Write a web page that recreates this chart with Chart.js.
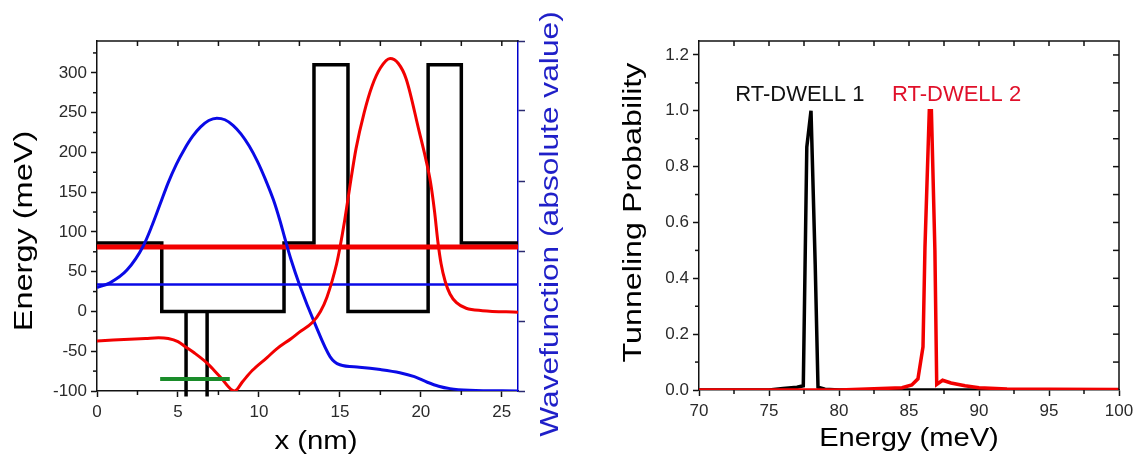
<!DOCTYPE html>
<html>
<head>
<meta charset="utf-8">
<script src="https://cdn.jsdelivr.net/npm/chart.js@4/dist/chart.umd.min.js"></script>
<style>
  html, body { margin: 0; padding: 0; background: #fff; }
  #wrap { position: relative; width: 1145px; height: 463px; overflow: hidden; background: #fff; }
  canvas { position: absolute; top: 0; }
  #band { left: 0; }
  #trans { left: 575px; }
</style>
</head>
<body>
<div id="wrap">
  <canvas id="band" width="575" height="463"></canvas>
  <canvas id="trans" width="570" height="463"></canvas>
</div>
<script>
// ---------- Band diagram: conduction-band profile and wavefunctions ----------
const profileX = [0, 4, 4, 11.55, 11.55, 13.4, 13.4, 15.5, 15.5, 20.45, 20.45, 22.5, 22.5, 26];
const profileE = [86, 86, 0, 0, 86, 86, 310, 310, 0, 0, 310, 310, 86, 86];

// narrow inner well walls (bottom lies below the plotted range)
const wellWallX = [5.5, 5.5, 6.15, 6.8, 6.8];
const wellWallE = [0, -107, null, 0, -107];

// resonance / bound-state levels
const upperLevelX = [0, 26];
const upperLevelE = [81, 81];
const lowerLevelX = [0, 26];
const lowerLevelE = [34, 34];
const groundLevelX = [3.9, 8.2];
const groundLevelE = [-85, -85];

// |psi| for the lower level (blue) and the upper level (red)
const psiLowX = [0, 0.8, 1.85, 2.85, 3.4, 3.9, 4.4, 4.9, 5.4, 5.9, 6.4, 6.9, 7.4, 7.9, 8.4, 8.9, 9.4, 9.9, 10.4, 10.9, 11.3, 11.6, 12.0, 12.5, 13.45, 14.4, 15.0, 16.2, 17.5, 18.7, 19.6, 20.4, 21.1, 21.8, 23, 26];
const psiLowE = [30, 36, 52, 82, 108, 135, 162, 185, 204, 220, 232, 240, 243, 241, 234, 223, 208, 189, 166, 140, 114, 92, 64, 34, -15, -57, -67, -70, -73, -77, -82, -89, -94, -97, -99, -100];

const psiHighX = [0, 1, 2, 3, 3.8, 4.4, 5.0, 5.5, 6.0, 6.8, 7.6, 8.5, 9.0, 9.6, 10.5, 11.1, 12, 12.5, 13.3, 13.8, 14.2, 14.8, 15.0, 15.3, 15.6, 16.0, 16.5, 17.0, 17.5, 18.1, 18.6, 19.1, 19.9, 20.3, 20.6, 20.85, 21.05, 21.25, 21.5, 21.8, 22.2, 22.8, 23.8, 26];
const psiHighE = [-37, -36, -35, -34, -33, -34, -38, -45, -52, -65, -82, -100, -88, -74, -58, -47, -34, -26, -14, 0, 18, 60, 80, 115, 155, 205, 250, 284, 306, 318, 312, 292, 226, 192, 162, 125, 88, 60, 38, 22, 11, 4, 1, -1];

const positionTicks = [0, 5, 10, 15, 20, 25];
const bandEnergyTicks = [-100, -50, 0, 50, 100, 150, 200, 250, 300];

// ---------- Tunneling probability spectra ----------
const dwell1E = [70, 75, 76, 77, 77.45, 77.7, 78.0, 78.3, 78.5, 79, 80, 85, 92];
const dwell1T = [0, 0, 0.005, 0.01, 0.015, 0.87, 1.0, 0.45, 0.01, 0.003, 0, 0, 0];
const dwell2E = [70, 80, 84.5, 85.2, 85.64, 86.0, 86.14, 86.45, 86.6, 86.85, 86.98, 87.4, 88, 89, 90, 92, 95, 100];
const dwell2T = [0, 0, 0.008, 0.018, 0.04, 0.155, 0.51, 1.0, 1.0, 0.5, 0.02, 0.035, 0.025, 0.015, 0.008, 0.004, 0.003, 0.002];

const energyTicks = [70, 75, 80, 85, 90, 95, 100];
const probTicks = [0, 0.2, 0.4, 0.6, 0.8, 1.0, 1.2];

const FAMILY = '"Liberation Sans", Arial, Helvetica, sans-serif';
const AXIS = '#111111';
const RED = '#f20000';
const BLUE = '#0a0ae6';
const GREEN = '#1a8c2a';

const pts = (xs, ys) => xs.map((x, i) => ({ x, y: ys[i] }));
const midpoints = arr => arr.slice(1).map((v, i) => (v + arr[i]) / 2);

// box edges, minor ticks and inward-pointing ticks on the top/right edges
const framePlugin = {
  id: 'frame',
  afterDatasetsDraw(chart, args, o) {
    const { ctx, chartArea: a } = chart;
    const xs = chart.scales.x, ys = chart.scales.y;
    const seg = (x1, y1, x2, y2) => { ctx.beginPath(); ctx.moveTo(x1, y1); ctx.lineTo(x2, y2); ctx.stroke(); };
    ctx.save();
    ctx.strokeStyle = AXIS;
    ctx.lineWidth = 1.5;
    seg(a.left - 0.75, a.top, a.right + 0.75, a.top);
    if (o.rightEdge) seg(a.right, a.top, a.right, a.bottom);
    (o.xMinor || []).forEach(v => { const p = xs.getPixelForValue(v); seg(p, a.bottom, p, a.bottom + 4); });
    (o.yMinor || []).forEach(v => { const p = ys.getPixelForValue(v); seg(a.left - 4, p, a.left, p); });
    (o.xTop || []).forEach(v => { const p = xs.getPixelForValue(v); seg(p, a.top, p, a.top + 5); });
    (o.yRight || []).forEach(v => { const p = ys.getPixelForValue(v); seg(a.right, p, a.right - 6, p); });
    ctx.restore();
  }
};

// axis titles and in-plot labels
const textPlugin = {
  id: 'labels',
  afterDraw(chart, args, o) {
    const { ctx, chartArea: a } = chart;
    (o.items || []).forEach(t => {
      let x, y;
      if (t.atX !== undefined) {
        x = chart.scales.x.getPixelForValue(t.atX);
        y = chart.scales.y.getPixelForValue(t.atY);
      } else {
        x = a.left + (a.right - a.left) * t.fx + t.dx;
        y = a.top + (a.bottom - a.top) * t.fy + t.dy;
      }
      ctx.save();
      ctx.translate(x, y);
      ctx.rotate(t.rot || 0);
      ctx.scale(t.stretch || 1, 1);
      ctx.font = `${t.size}px ${FAMILY}`;
      ctx.fillStyle = t.color;
      ctx.textAlign = 'center';
      ctx.textBaseline = 'middle';
      ctx.fillText(t.text, 0, 0);
      ctx.restore();
    });
  }
};

const tickFont = { family: FAMILY, size: 17 };
const baseGrid = { drawOnChartArea: false, drawTicks: true, tickLength: 6, color: AXIS, tickWidth: 1.5 };
const baseBorder = { color: AXIS, width: 1.5 };

new Chart(document.getElementById('band'), {
  type: 'line',
  plugins: [framePlugin, textPlugin],
  data: {
    datasets: [
      { data: pts(groundLevelX, groundLevelE), borderColor: GREEN, borderWidth: 4 },
      { data: pts(psiHighX, psiHighE), borderColor: RED, borderWidth: 3, cubicInterpolationMode: 'monotone' },
      { data: pts(psiLowX, psiLowE), borderColor: BLUE, borderWidth: 3, cubicInterpolationMode: 'monotone' },
      { data: pts(upperLevelX, upperLevelE), borderColor: RED, borderWidth: 5 },
      { data: pts(lowerLevelX, lowerLevelE), borderColor: BLUE, borderWidth: 2.5 },
      { data: pts(profileX, profileE), borderColor: '#000', borderWidth: 3.5, tension: 0 },
      { data: pts(wellWallX, wellWallE), borderColor: '#000', borderWidth: 3.5, spanGaps: false,
        clip: { left: 0, top: 0, right: 0, bottom: 7 } }
    ]
  },
  options: {
    responsive: false, animation: false, devicePixelRatio: 1,
    layout: { padding: { top: 41, left: 0, right: 0, bottom: 0 } },
    elements: { point: { radius: 0, hoverRadius: 0 }, line: { borderCapStyle: 'butt', borderJoinStyle: 'miter', fill: false } },
    events: [],
    plugins: {
      legend: { display: false },
      tooltip: { enabled: false },
      frame: {
        xMinor: midpoints(positionTicks),
        yMinor: midpoints(bandEnergyTicks).concat([325]),
        xTop: midpoints(positionTicks).concat(positionTicks.slice(1))
      },
      labels: {
        items: [
          { text: 'Energy (meV)', fx: 0, fy: 0.5, dx: -72, dy: 15, rot: -Math.PI / 2, stretch: 1.25, size: 26, color: '#000' },
          { text: 'Wavefunction (absolute value)', fx: 1, fy: 0.5, dx: 33, dy: 8, rot: -Math.PI / 2, stretch: 1.22, size: 26, color: '#1f1fc8' },
          { text: 'x (nm)', fx: 0.5, fy: 1, dx: 8.5, dy: 51, stretch: 1.13, size: 26, color: '#000' }
        ]
      }
    },
    scales: {
      x: {
        type: 'linear', min: 0, max: 26,
        afterBuildTicks: s => { s.ticks = positionTicks.map(v => ({ value: v })); },
        afterFit: s => { s.height = 72; },
        grid: baseGrid, border: baseBorder,
        ticks: { font: tickFont, color: '#2a2a2a', padding: 5, maxRotation: 0, autoSkip: false }
      },
      y: {
        type: 'linear', position: 'left', min: -100, max: 340,
        afterBuildTicks: s => { s.ticks = bandEnergyTicks.map(v => ({ value: v })); },
        afterFit: s => { s.width = 97; },
        grid: baseGrid, border: baseBorder,
        ticks: { font: tickFont, color: '#2a2a2a', padding: 4, autoSkip: false }
      },
      y2: {
        type: 'linear', position: 'right', min: 0, max: 5,
        afterBuildTicks: s => { s.ticks = [0, 1, 2, 3, 4, 5].map(v => ({ value: v })); },
        afterFit: s => { s.width = 57; },
        grid: { drawOnChartArea: false, drawTicks: true, tickLength: 7, color: '#2a2a70', tickWidth: 1.5 },
        border: { color: '#0000cc', width: 1.5 },
        ticks: { display: false }
      }
    }
  }
});

new Chart(document.getElementById('trans'), {
  type: 'line',
  plugins: [framePlugin, textPlugin],
  data: {
    datasets: [
      { data: pts(dwell2E, dwell2T), borderColor: RED, borderWidth: 3.5, tension: 0 },
      { data: pts(dwell1E, dwell1T), borderColor: '#000', borderWidth: 3.5, tension: 0 }
    ]
  },
  options: {
    responsive: false, animation: false, devicePixelRatio: 1,
    layout: { padding: { top: 41, left: 0, right: 26, bottom: 0 } },
    elements: { point: { radius: 0, hoverRadius: 0 }, line: { borderCapStyle: 'butt', borderJoinStyle: 'miter', fill: false } },
    events: [],
    plugins: {
      legend: { display: false },
      tooltip: { enabled: false },
      frame: {
        rightEdge: true,
        xMinor: midpoints(energyTicks),
        yMinor: midpoints(probTicks),
        xTop: midpoints(energyTicks).concat(energyTicks.slice(1, -1)),
        yRight: midpoints(probTicks).concat(probTicks.slice(1))
      },
      labels: {
        items: [
          { text: 'Tunneling Probability', fx: 0, fy: 0.5, dx: -65.5, dy: -3, rot: -Math.PI / 2, stretch: 1.24, size: 26, color: '#000' },
          { text: 'Energy (meV)', fx: 0.5, fy: 1, dx: 0, dy: 49, stretch: 1.12, size: 26, color: '#000' },
          { text: 'RT-DWELL 1', atX: 77.2, atY: 1.058, size: 22, color: '#111' },
          { text: 'RT-DWELL 2', atX: 88.4, atY: 1.058, size: 22, color: '#e0102a' }
        ]
      }
    },
    scales: {
      x: {
        type: 'linear', min: 70, max: 100,
        afterBuildTicks: s => { s.ticks = energyTicks.map(v => ({ value: v })); },
        afterFit: s => { s.height = 73; },
        grid: baseGrid, border: baseBorder,
        ticks: { font: tickFont, color: '#2a2a2a', padding: 5, maxRotation: 0, autoSkip: false }
      },
      y: {
        type: 'linear', position: 'left', min: 0, max: 1.25,
        afterBuildTicks: s => { s.ticks = probTicks.map(v => ({ value: v })); },
        afterFit: s => { s.width = 124; },
        grid: baseGrid, border: baseBorder,
        ticks: { font: tickFont, color: '#2a2a2a', padding: 4, autoSkip: false, callback: v => Number(v).toFixed(1) }
      }
    }
  }
});
</script>
</body>
</html>
